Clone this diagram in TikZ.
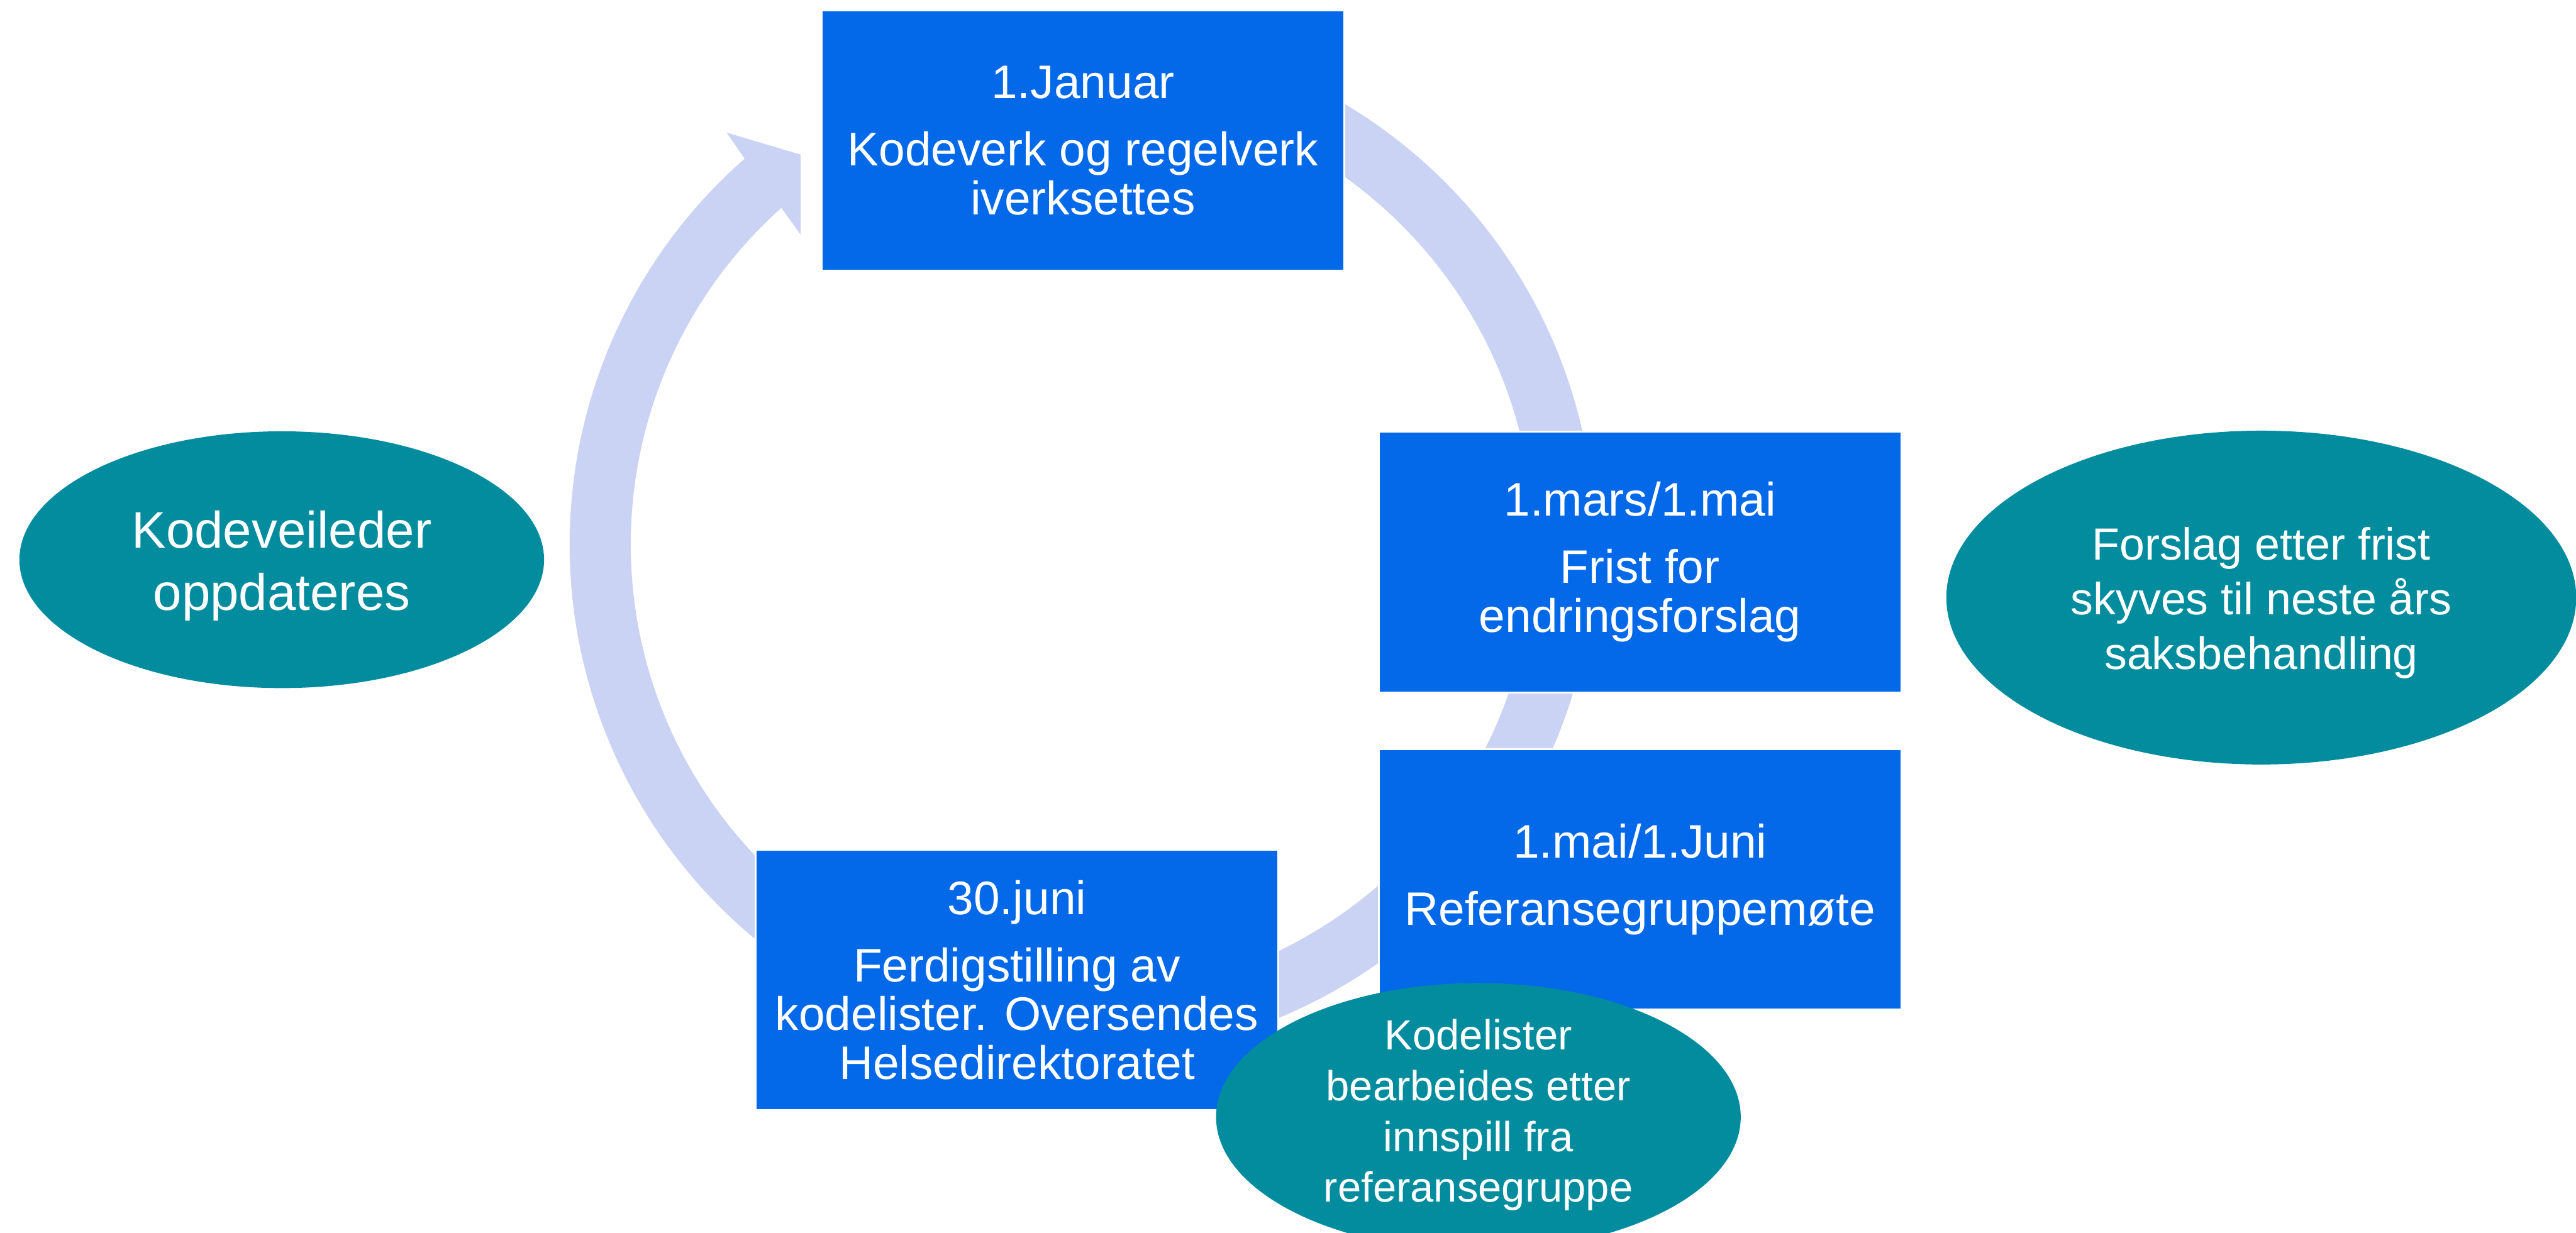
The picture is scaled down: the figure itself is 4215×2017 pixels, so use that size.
\documentclass[tikz,border=0pt]{standalone}
\usepackage{fontspec}
\setmainfont{Liberation Sans}
\usetikzlibrary{shapes.geometric}
\definecolor{boxblue}{RGB}{3,105,232}
\definecolor{tealc}{RGB}{2,140,158}
\definecolor{ringc}{RGB}{203,211,245}
\begin{document}
\begin{tikzpicture}[x=0.01cm, y=-0.01cm,
  stepbox/.style={rectangle, fill=boxblue, draw=white, line width=0.3mm,
    minimum width=8.55cm, minimum height=4.26cm, inner sep=0pt,
    text=white, align=center, font=\fontsize{21.9}{22.8}\selectfont},
  oval/.style={ellipse, fill=tealc, inner sep=0pt},
  ovaltext/.style={text=white, align=center, inner sep=0pt}]
\useasboundingbox (0,0) rectangle (4215,2017);
% circular arrow ring
\fill[ringc] plot[domain=-67:228.8, samples=200] ({1771+839*cos(\x)},{891+839*sin(\x)})
  -- (1189,217) -- (1310,253) -- (1310,384)
  -- plot[domain=228.2:-67, samples=200] ({1771+739*cos(\x)},{891+739*sin(\x)}) -- cycle;
% boxes
\node[stepbox] (b1) at (1772,230) {1.Januar\\[8.5pt]Kodeverk og regelverk\\iverksettes};
\node[stepbox] (b2) at (2683.5,920) {1.mars/1.mai\\[8.5pt]Frist for\\endringsforslag};
\node[stepbox] (b3) at (2683.5,1439) {1.mai/1.Juni\\[8.5pt]Referansegruppemøte};
\node[stepbox] (b4) at (1664,1604) {30.juni\\[8.5pt]Ferdigstilling av\\kodelister. Oversendes\\Helsedirektoratet};
% ellipses
\node[oval, minimum width=8.58cm, minimum height=4.2cm] (e1) at (461,916) {};
\node[ovaltext, font=\fontsize{23.9}{29}\selectfont] (t1) at (461,926) {Kodeveileder\\oppdateres};
\node[oval, minimum width=10.3cm, minimum height=5.46cm] (e2) at (3700,978) {};
\node[ovaltext, font=\fontsize{21}{25.5}\selectfont] (t2) at (3700,987) {Forslag etter frist\\skyves til neste års\\saksbehandling};
\node[oval, minimum width=8.58cm, minimum height=4.38cm] (e3) at (2419,1828) {};
\node[ovaltext, font=\fontsize{19.6}{23.6}\selectfont] (t3) at (2419,1825) {Kodelister\\bearbeides etter\\innspill fra\\referansegruppe};
\end{tikzpicture}
\end{document}
